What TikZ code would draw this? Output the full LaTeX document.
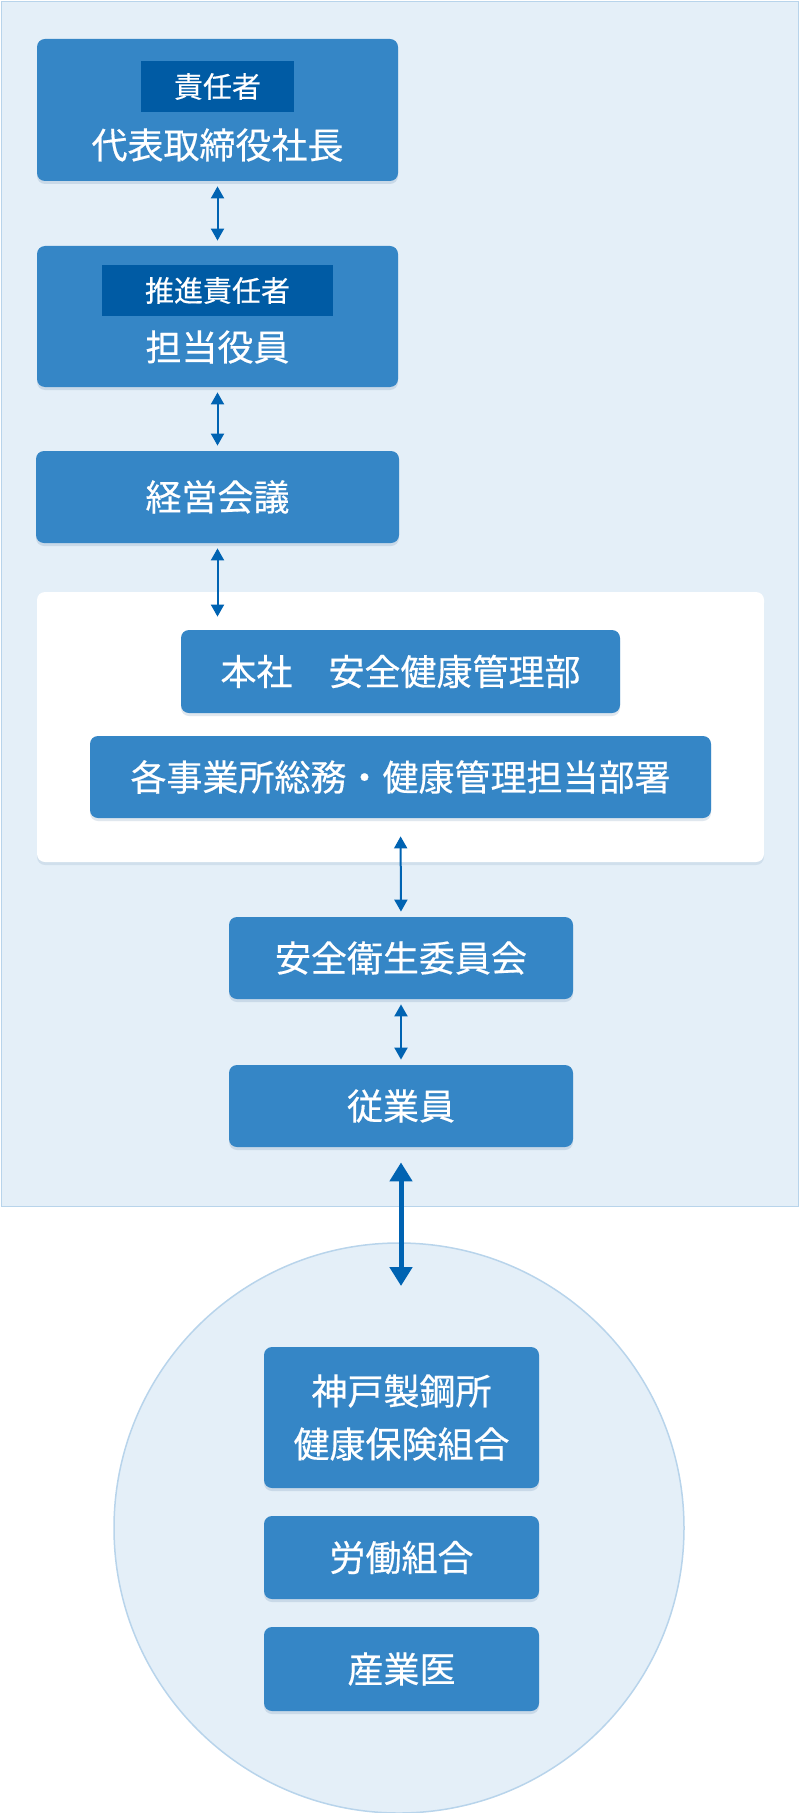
\documentclass[tikz,border=0pt]{standalone}
\usepackage{fontspec}
\usepackage{tikz}
\usetikzlibrary{arrows.meta,shadows}
\newfontfamily\jp[FakeBold=0.45]{Noto Sans CJK JP}
\definecolor{kbox}{RGB}{53,134,198}
\definecolor{ktag}{RGB}{0,91,164}
\definecolor{karr}{RGB}{0,99,178}
\definecolor{kpanel}{RGB}{228,239,248}
\definecolor{kline}{RGB}{184,212,235}
\definecolor{kshade}{RGB}{40,90,140}
\tikzset{
  obox/.style={fill=kbox, rounded corners=4pt, inner sep=0pt, text=white,
    font=\jp\fontsize{18}{26.5}\selectfont, align=center,
    drop shadow={shadow xshift=0pt, shadow yshift=-1.5pt, opacity=0.14, fill=kshade}},
  olab/.style={text=white, font=\jp\fontsize{18}{26.5}\selectfont, inner sep=0pt},
  otag/.style={fill=ktag, text=white, font=\jp\fontsize{14.5}{17}\selectfont, inner sep=0pt,
    minimum height=25.5pt},
  wpan/.style={fill=white, rounded corners=4pt, inner sep=0pt,
    drop shadow={shadow xshift=0pt, shadow yshift=-1.5pt, opacity=0.10, fill=kshade}},
  outer/.style={fill=kpanel, draw=kline, line width=0.75pt},
  ring/.style={circle, fill=kpanel, draw=kline, line width=0.75pt, inner sep=0pt},
  tarr/.style={{Triangle[length=6pt,width=6.5pt]}-{Triangle[length=6pt,width=6.5pt]},
    karr, line width=1pt, shorten <=2.5pt, shorten >=2.5pt},
  harr/.style={{Triangle[length=9.5pt,width=11pt]}-{Triangle[length=9.5pt,width=11pt]},
    karr, line width=2.5pt},
}
\begin{document}
\begin{tikzpicture}[x=0.5pt,y=-0.5pt]
\useasboundingbox (0,0) rectangle (800,1813);
\draw[outer] (1.5,1.5) rectangle (798.5,1206.5);
\node[ring, minimum size=285pt] (circ) at (399,1528) {};

\node[obox, minimum width=180.5pt, minimum height=71pt] (ceo) at (217.5,110) {};
\node[otag, minimum width=76.5pt] (ceotag) at (217.5,86.5) {責任者};
\node[olab] (ceolab) at (217.5,145) {代表取締役社長};
\node[obox, minimum width=180.5pt, minimum height=70.5pt] (exec) at (217.5,316.5) {};
\node[otag, minimum width=115.5pt] (exectag) at (217.5,290.5) {推進責任者};
\node[olab] (execlab) at (217.5,347) {担当役員};
\node[obox, minimum width=181.5pt, minimum height=46pt] (mtg) at (217.5,497) {経営会議};

\node[wpan, minimum width=363.5pt, minimum height=135pt] (dept) at (400.5,727) {};
\node[obox, minimum width=219.5pt, minimum height=41.5pt] (hq) at (400.5,671.5) {本社　安全健康管理部};
\node[obox, minimum width=310.5pt, minimum height=41pt] (site) at (400.5,777) {各事業所総務・健康管理担当部署};
\node[obox, minimum width=172pt, minimum height=41pt] (ssc) at (401,958) {安全衛生委員会};
\node[obox, minimum width=172pt, minimum height=41pt] (emp) at (401,1106) {従業員};

\node[obox, minimum width=137.5pt, minimum height=70.5pt] (kenpo) at (401.5,1417.5) {神戸製鋼所\\健康保険組合};
\node[obox, minimum width=137.5pt, minimum height=41.5pt] (union) at (401.5,1557.5) {労働組合};
\node[obox, minimum width=137.5pt, minimum height=42pt] (doc) at (401.5,1669) {産業医};

\draw[tarr] (ceo.south) -- (exec.north);
\draw[tarr] (exec.south) -- (mtg.north);
\draw[tarr, shorten >=6.5pt] (mtg.south) -- (mtg.south |- hq.north);
\draw[tarr, shorten <=9pt] (site.south) -- (ssc.north);
\draw[tarr] (ssc.south) -- (emp.north);
\coordinate (ext) at (401,1286);
\draw[harr, shorten <=7.5pt] (emp.south) -- (ext);
\end{tikzpicture}
\end{document}
